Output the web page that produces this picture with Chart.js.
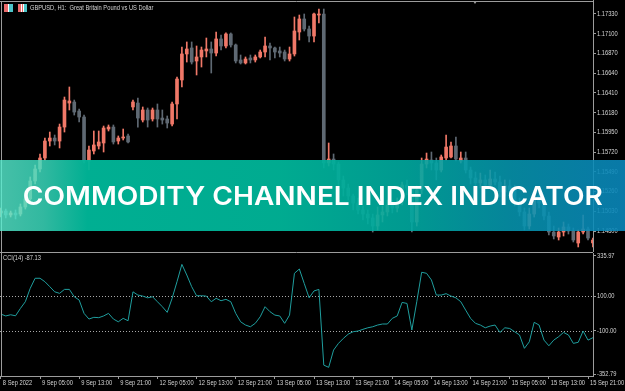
<!DOCTYPE html>
<html>
<head>
<meta charset="utf-8">
<script src="https://cdn.jsdelivr.net/npm/chart.js@4/dist/chart.umd.min.js"></script>
<style>
  html, body { margin: 0; padding: 0; background: #000; }
  #wrap { position: relative; width: 625px; height: 391px; overflow: hidden; background: #000; }
  #price { position: absolute; left: 0; top: 0; }
  #cci { position: absolute; left: 0; top: 252px; }
  .lbl { position: absolute; color: #d4d4d4; font: 7px 'Liberation Sans', sans-serif; white-space: nowrap; line-height: 8px; transform: scaleX(0.82); transform-origin: 0 0; }
  .ico { position: absolute; top: 4px; width: 9px; height: 8px; }
  #mark { position: absolute; left: 473px; top: 1px; width: 0; height: 0; border-left: 2px solid transparent; border-right: 2px solid transparent; border-top: 3px solid #9c9c9c; }
  #banner {
    position: absolute; left: 0; top: 160px; width: 625px; height: 71px;
    background: linear-gradient(90deg, rgba(88,240,210,0.8) 0%, rgba(60,225,195,0.82) 7%, rgba(0,182,152,0.96) 14%,
      rgba(0,180,152,0.95) 45%, rgba(0,170,160,0.9) 65%, rgba(6,150,176,0.88) 82%, rgba(10,134,186,0.9) 100%);
    display: flex; align-items: center; justify-content: center;
  }
  #banner span { color: #fff; font: 600 26px Inter, 'Open Sans', sans-serif; white-space: nowrap; display: inline-block; }
</style>
</head>
<body>
<div id="wrap">
  <canvas id="price" width="625" height="252"></canvas>
  <canvas id="cci" width="625" height="139"></canvas>
  <div class="ico" style="left:4px;background:linear-gradient(90deg,#e86a6a 0 45%,#fff 45% 55%,#4cc4c8 55%);"></div>
  <div class="ico" style="left:18px;background:linear-gradient(90deg,#e86a6a 0 30%,#fff 30% 40%,#e86a6a 40% 60%,#fff 60% 70%,#4cc4c8 70%);"></div>
  <div class="lbl" style="left:30px;top:4px;">GBPUSD, H1:&nbsp; Great Britain Pound vs US Dollar</div>
  <div class="lbl" style="left:3px;top:254px;">CCI(14) -87.13</div>
  <div id="mark"></div>
  <div id="banner"><span id="btxt">COMMODITY CHANNEL INDEX INDICATOR</span></div>
</div>
<script>
// candles, GBPUSD H1, one per bar from 8 Sep 21:00
const opens = [
  1.15010, 1.15033, 1.14987, 1.15010, 1.14998, 1.15080, 1.15173, 1.15383, 1.15523, 1.15651,
  1.15849, 1.15884, 1.15849, 1.16012, 1.16292, 1.16304, 1.16199, 1.16129, 1.15616, 1.15733,
  1.15791, 1.15826, 1.15989, 1.16012, 1.15849, 1.15884, 1.15908, 1.16246, 1.16292, 1.16094,
  1.16211, 1.16106, 1.16211, 1.16117, 1.16106, 1.16047, 1.16281, 1.16561, 1.16864, 1.16934,
  1.16782, 1.16829, 1.16899, 1.16922, 1.16875, 1.17039, 1.16957, 1.17097, 1.16969, 1.16794,
  1.16759, 1.16817, 1.16794, 1.16829, 1.16887, 1.16957, 1.16934, 1.16899, 1.16887, 1.16805,
  1.16864, 1.17120, 1.17272, 1.17155, 1.17073, 1.17318, 1.17330, 1.15593, 1.15639, 1.15581,
  1.15395, 1.15301, 1.15208, 1.15126, 1.15045, 1.14998, 1.14952, 1.14858, 1.14987, 1.15022,
  1.15103, 1.15068, 1.15138, 1.15336, 1.15301, 1.14905, 1.15278, 1.15581, 1.15628, 1.15593,
  1.15511, 1.15651, 1.15663, 1.15791, 1.15616, 1.15651, 1.15511, 1.15418, 1.15360, 1.15395,
  1.15336, 1.15406, 1.15371, 1.15255, 1.15325, 1.15278, 1.15126, 1.15022, 1.14858, 1.14998,
  1.15208, 1.15126, 1.14975, 1.14788, 1.14730, 1.14788, 1.14847, 1.14800, 1.14660, 1.14788,
  1.14823, 1.14660
];
const highs = [
  1.15068, 1.15056, 1.15033, 1.15045, 1.15115, 1.15208, 1.15430, 1.15569, 1.15698, 1.15884,
  1.15954, 1.15919, 1.16047, 1.16362, 1.16479, 1.16327, 1.16222, 1.16152, 1.15791, 1.15966,
  1.15966, 1.16024, 1.16036, 1.16036, 1.15908, 1.15989, 1.15931, 1.16327, 1.16351, 1.16246,
  1.16234, 1.16234, 1.16281, 1.16211, 1.16141, 1.16304, 1.16595, 1.16945, 1.17004, 1.17004,
  1.16957, 1.16945, 1.17050, 1.17004, 1.17120, 1.17085, 1.17109, 1.17109, 1.16980, 1.16852,
  1.16829, 1.16852, 1.16852, 1.16910, 1.17062, 1.16992, 1.16945, 1.16945, 1.16910, 1.16945,
  1.17295, 1.17318, 1.17330, 1.17190, 1.17342, 1.17388, 1.17388, 1.15826, 1.15698, 1.15604,
  1.15441, 1.15348, 1.15231, 1.15185, 1.15091, 1.15045, 1.14998, 1.15080, 1.15091, 1.15161,
  1.15161, 1.15185, 1.15371, 1.15395, 1.15325, 1.15325, 1.15651, 1.15709, 1.15721, 1.15651,
  1.15686, 1.15919, 1.15838, 1.15896, 1.15721, 1.15721, 1.15546, 1.15488, 1.15476, 1.15453,
  1.15511, 1.15488, 1.15441, 1.15395, 1.15395, 1.15336, 1.15185, 1.15068, 1.15068, 1.15255,
  1.15243, 1.15161, 1.15022, 1.14858, 1.14835, 1.14905, 1.14882, 1.14835, 1.14812, 1.14987,
  1.14847, 1.14718
];
const lows = [
  1.14963, 1.14952, 1.14963, 1.14940, 1.14975, 1.15056, 1.15150, 1.15348, 1.15488, 1.15628,
  1.15791, 1.15803, 1.15768, 1.15954, 1.16211, 1.16152, 1.16071, 1.15593, 1.15511, 1.15698,
  1.15756, 1.15721, 1.15966, 1.15814, 1.15814, 1.15861, 1.15826, 1.16211, 1.16012, 1.16071,
  1.16012, 1.16082, 1.16012, 1.16047, 1.16001, 1.16024, 1.16106, 1.16479, 1.16770, 1.16747,
  1.16619, 1.16712, 1.16829, 1.16642, 1.16840, 1.16910, 1.16934, 1.16945, 1.16759, 1.16747,
  1.16747, 1.16759, 1.16770, 1.16817, 1.16829, 1.16794, 1.16817, 1.16829, 1.16782, 1.16782,
  1.16840, 1.17027, 1.17132, 1.17004, 1.17004, 1.17225, 1.15535, 1.15558, 1.15511, 1.15301,
  1.15208, 1.15161, 1.15045, 1.14998, 1.14928, 1.14882, 1.14788, 1.14812, 1.14905, 1.14975,
  1.15010, 1.15022, 1.15103, 1.15220, 1.14788, 1.14858, 1.15231, 1.15535, 1.15511, 1.15395,
  1.15488, 1.15628, 1.15651, 1.15616, 1.15593, 1.15476, 1.15348, 1.15313, 1.15301, 1.15290,
  1.15313, 1.15336, 1.15196, 1.15208, 1.15231, 1.15091, 1.14975, 1.14812, 1.14823, 1.14963,
  1.15068, 1.14928, 1.14753, 1.14707, 1.14695, 1.14742, 1.14765, 1.14672, 1.14614, 1.14765,
  1.14695, 1.14614
];
const closes = [
  1.15033, 1.14987, 1.15010, 1.14987, 1.15080, 1.15173, 1.15383, 1.15523, 1.15651, 1.15849,
  1.15884, 1.15849, 1.16012, 1.16327, 1.16316, 1.16187, 1.16129, 1.15616, 1.15744, 1.15803,
  1.15838, 1.16001, 1.16012, 1.15838, 1.15884, 1.15896, 1.15838, 1.16304, 1.16117, 1.16211,
  1.16094, 1.16211, 1.16106, 1.16094, 1.16059, 1.16281, 1.16572, 1.16864, 1.16922, 1.16770,
  1.16829, 1.16910, 1.16922, 1.16875, 1.17039, 1.16957, 1.17097, 1.16969, 1.16782, 1.16759,
  1.16805, 1.16794, 1.16829, 1.16887, 1.16957, 1.16934, 1.16887, 1.16875, 1.16805, 1.16864,
  1.17132, 1.17272, 1.17155, 1.17073, 1.17330, 1.17330, 1.15593, 1.15639, 1.15581, 1.15395,
  1.15301, 1.15208, 1.15126, 1.15045, 1.14998, 1.14952, 1.14858, 1.14987, 1.15022, 1.15103,
  1.15068, 1.15138, 1.15336, 1.15301, 1.14905, 1.15278, 1.15581, 1.15639, 1.15593, 1.15511,
  1.15663, 1.15779, 1.15791, 1.15639, 1.15651, 1.15511, 1.15418, 1.15360, 1.15395, 1.15336,
  1.15406, 1.15371, 1.15255, 1.15325, 1.15278, 1.15126, 1.15022, 1.14858, 1.14998, 1.15208,
  1.15126, 1.14975, 1.14788, 1.14742, 1.14788, 1.14847, 1.14800, 1.14695, 1.14788, 1.14823,
  1.14718, 1.14695
];

// CCI(14) value per bar
const cciValues = [
  -3, -14, -7, -13, 30, 69, 147, 206, 206, 186,
  157, 127, 118, 141, 141, 98, 79, 1, -32, -22,
  -24, -14, 1, -32, -48, -28, -42, 127, 108, 102,
  92, 98, 69, 40, 7, 89, 186, 287, 225, 157,
  104, 104, 102, 69, 89, 75, 83, 69, 1, -48,
  -67, -77, -57, -19, 40, 11, -9, -14, -57, -9,
  235, 260, 176, 92, 132, 141, -301, -314, -213, -174,
  -145, -120, -106, -102, -92, -83, -77, -67, -61, -61,
  -28, -14, 65, 59, -96, 69, 241, 235, 196, 108,
  108, 116, 102, 92, 69, 20, -28, -57, -67, -83,
  -73, -67, -110, -83, -87, -106, -125, -203, -165, -51,
  -67, -155, -188, -155, -135, -110, -125, -174, -168, -102,
  -155, -141
];
const cciLevels = [100, -100];

const priceTicks = [1.17330, 1.17100, 1.16870, 1.16640, 1.16410, 1.16180, 1.15950, 1.15720, 1.15490, 1.15260, 1.15030, 1.14800];
const cciTicks = [335.97, 100, -100, -352.79];
const timeTickBars = [0, 8, 16, 24, 32, 40, 48, 56, 64, 72, 80, 88, 96, 104, 112, 120];
const timeLabels = ['8 Sep 2022', '9 Sep 05:00', '9 Sep 13:00', '9 Sep 21:00', '12 Sep 05:00', '12 Sep 13:00',
  '12 Sep 21:00', '13 Sep 05:00', '13 Sep 13:00', '13 Sep 21:00', '14 Sep 05:00', '14 Sep 13:00',
  '14 Sep 21:00', '15 Sep 05:00', '15 Sep 13:00', '15 Sep 21:00'];

const UP = '#f07868';
const DOWN = '#5f6973';
const AXIS = '#9c9c9c';
const TEXT = '#d4d4d4';
const X_MIN = -0.176, X_MAX = 121.02;

Chart.defaults.font.family = "'Liberation Sans', sans-serif";
Chart.defaults.font.size = 7;
Chart.defaults.color = TEXT;
Chart.defaults.animation = false;

const candleColors = opens.map((o, i) => closes[i] >= o ? UP : DOWN);

function fixWidth(scale) {
  scale.width = 32;
  scale.paddingTop = 0;
  scale.paddingBottom = 0;
}

// panel frame lines (top and left edges)
const framePlugin = {
  id: 'frame',
  afterDraw(chart, args, opts) {
    const ctx = chart.ctx;
    const a = chart.chartArea;
    ctx.save();
    ctx.strokeStyle = AXIS;
    ctx.lineWidth = 1;
    ctx.beginPath();
    ctx.moveTo(0, opts.top + 0.5);
    ctx.lineTo(a.right, opts.top + 0.5);
    ctx.moveTo(1.5, opts.top);
    ctx.lineTo(1.5, opts.bottom);
    ctx.stroke();
    ctx.restore();
  }
};

// MT5 style labels: narrow face, drawn at the scale's own tick positions
const narrowLabels = {
  id: 'narrowLabels',
  afterDraw(chart, args, opts) {
    const ctx = chart.ctx;
    const a = chart.chartArea;
    const draw = (txt, x, y) => {
      ctx.save();
      ctx.translate(x, y);
      ctx.scale(0.82, 1);
      ctx.fillText(txt, 0, 0);
      ctx.restore();
    };
    ctx.save();
    ctx.fillStyle = TEXT;
    ctx.font = "7px 'Liberation Sans', sans-serif";
    ctx.textBaseline = 'middle';
    ctx.textAlign = 'left';
    const ys = chart.scales.y;
    ys.ticks.forEach(t => draw(t.value.toFixed(opts.decimals), a.right + 4, ys.getPixelForValue(t.value)));
    if (opts.timeAxis) {
      const xs = chart.scales.x;
      timeTickBars.forEach((b, i) => draw(timeLabels[i], xs.getPixelForValue(b) + 2, a.bottom + 7));
    }
    ctx.restore();
  }
};

new Chart(document.getElementById('price'), {
  type: 'bar',
  data: {
    datasets: [
      {
        data: lows.map((l, i) => ({ x: i, y: [l, highs[i]] })),
        backgroundColor: candleColors,
        barThickness: 1,
        grouped: false,
        order: 2
      },
      {
        data: opens.map((o, i) => ({ x: i, y: [o, closes[i]] })),
        backgroundColor: candleColors,
        barThickness: 3,
        minBarLength: 1,
        grouped: false,
        order: 1
      }
    ]
  },
  options: {
    responsive: false,
    layout: { padding: 0 },
    plugins: {
      legend: { display: false },
      tooltip: { enabled: false },
      frame: { top: 1, bottom: 252 },
      narrowLabels: { decimals: 5, timeAxis: false }
    },
    scales: {
      x: { type: 'linear', display: false, offset: false, min: X_MIN, max: X_MAX },
      y: {
        position: 'right',
        min: 1.145552,
        max: 1.174932,
        afterBuildTicks: s => { s.ticks = priceTicks.map(v => ({ value: v })); },
        afterFit: fixWidth,
        ticks: { display: false },
        grid: { drawOnChartArea: false, tickLength: 3, color: AXIS },
        border: { color: AXIS }
      }
    }
  },
  plugins: [framePlugin, narrowLabels]
});

const levelsPlugin = {
  id: 'levels',
  beforeDatasetsDraw(chart) {
    const ctx = chart.ctx;
    const a = chart.chartArea;
    const y = chart.scales.y;
    ctx.save();
    ctx.strokeStyle = '#a8a8a8';
    ctx.lineWidth = 1;
    ctx.setLineDash([1, 2]);
    cciLevels.forEach(v => {
      const py = Math.round(y.getPixelForValue(v)) + 0.5;
      ctx.beginPath();
      ctx.moveTo(a.left, py);
      ctx.lineTo(a.right, py);
      ctx.stroke();
    });
    ctx.restore();
  }
};

new Chart(document.getElementById('cci'), {
  type: 'line',
  data: {
    datasets: [{
      data: cciValues.map((v, i) => ({ x: i, y: v })),
      borderColor: '#1f9e9e',
      borderWidth: 1,
      pointRadius: 0,
      tension: 0
    }]
  },
  options: {
    responsive: false,
    layout: { padding: { top: 1 } },
    plugins: {
      legend: { display: false },
      tooltip: { enabled: false },
      frame: { top: 0, bottom: 124 },
      narrowLabels: { decimals: 2, timeAxis: true }
    },
    scales: {
      x: {
        type: 'linear',
        min: X_MIN,
        max: X_MAX,
        offset: false,
        afterBuildTicks: s => { s.ticks = timeTickBars.map(v => ({ value: v })); },
        afterFit: s => { s.height = 15; s.paddingLeft = 0; s.paddingRight = 0; },
        ticks: { display: false },
        grid: { drawOnChartArea: false, tickLength: 3, color: AXIS },
        border: { color: AXIS }
      },
      y: {
        position: 'right',
        min: -364.46,
        max: 353.48,
        afterBuildTicks: s => { s.ticks = cciTicks.map(v => ({ value: v })); },
        afterFit: fixWidth,
        ticks: { display: false },
        grid: { drawOnChartArea: false, tickLength: 3, color: AXIS },
        border: { color: AXIS }
      }
    }
  },
  plugins: [framePlugin, levelsPlugin, narrowLabels]
});

// stretch the banner title to the width it has in the picture
const bt = document.getElementById('btxt');
const w = bt.getBoundingClientRect().width;
bt.style.transform = 'scaleX(' + (580 / w) + ')';
</script>
</body>
</html>
